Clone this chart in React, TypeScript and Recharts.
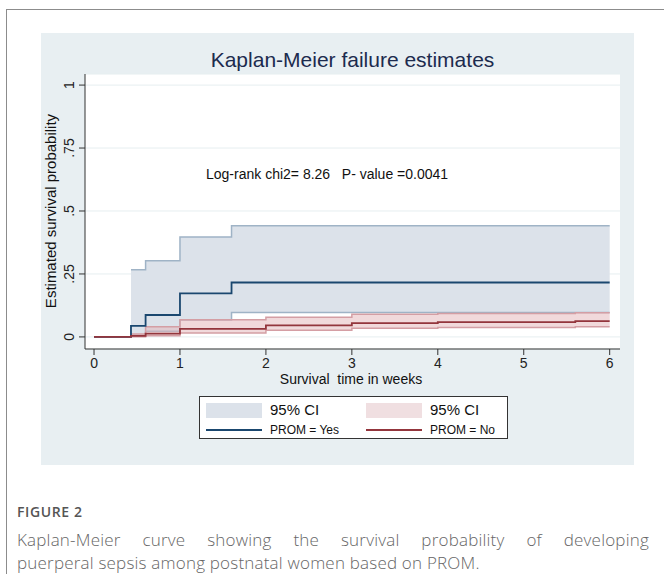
import {
  ComposedChart,
  Area,
  Line,
  XAxis,
  YAxis,
  CartesianGrid,
} from "recharts";

// PROM = Yes (failure estimate with 95% CI)
const yesTime = [0, 0.43, 0.6, 1.0, 1.6, 6];
const yesEst = [0, 0.044, 0.087, 0.173, 0.216, 0.216];
const yesLo = [null, 0.006, 0.022, 0.067, 0.097, 0.097];
const yesHi = [null, 0.267, 0.302, 0.397, 0.441, 0.441];

// PROM = No
const noTime = [0, 0.43, 0.6, 1.0, 2.0, 3.0, 4.0, 5.6, 6];
const noEst = [0, 0.004, 0.013, 0.032, 0.046, 0.055, 0.059, 0.063, 0.063];
const noLo = [null, 0.001, 0.005, 0.016, 0.026, 0.034, 0.037, 0.04, 0.04];
const noHi = [null, 0.012, 0.04, 0.068, 0.078, 0.09, 0.093, 0.096, 0.096];

const xTicks = [0, 1, 2, 3, 4, 5, 6];
const yTicks = [0, 0.25, 0.5, 0.75, 1];
const yTickLabels = ["0", ".25", ".5", ".75", "1"];

const yesLine = yesTime.map((t, i) => ({ t, est: yesEst[i] }));
const yesBand = yesTime
  .map((t, i) => ({ t, ci: yesLo[i] == null ? null : [yesLo[i], yesHi[i]] }))
  .filter((d) => d.ci != null);
const noLine = noTime.map((t, i) => ({ t, est: noEst[i] }));
const noBand = noTime
  .map((t, i) => ({ t, ci: noLo[i] == null ? null : [noLo[i], noHi[i]] }))
  .filter((d) => d.ci != null);

const FONT = "'Liberation Sans', Arial, sans-serif";
const NAVY = "#1a476f";
const MAROON = "#93353c";

function YTick(props: any) {
  const { x, y, payload } = props;
  const idx = yTicks.indexOf(payload.value);
  const tx = x - 3;
  return (
    <text
      x={tx}
      y={y}
      transform={`rotate(-90 ${tx} ${y})`}
      textAnchor="middle"
      fontSize={14}
      fontFamily={FONT}
      fill="#222"
    >
      {idx >= 0 ? yTickLabels[idx] : payload.value}
    </text>
  );
}

const abs = (s: any) => ({ position: "absolute" as const, ...s });

export default function App() {
  return (
    <div style={abs({ left: 0, top: 0, width: 664, height: 574, background: "#fff", overflow: "hidden" })}>
      <div
        style={abs({
          left: 6,
          top: 9,
          width: 670,
          height: 580,
          borderLeft: "1px solid #8c8c8c",
          borderTop: "1px solid #8c8c8c",
        })}
      />
      <div style={abs({ left: 41, top: 33, width: 593, height: 432, background: "#e8eff2" })}>
        <ComposedChart
          width={593}
          height={432}
          margin={{ top: 41, right: 14, left: 0, bottom: 76 }}
        >
          <CartesianGrid fill="#ffffff" stroke="#e6eef0" vertical={false} />
          <XAxis
            type="number"
            dataKey="t"
            domain={[-0.105, 6.12]}
            ticks={xTicks}
            allowDataOverflow
            height={40}
            tickSize={6}
            tickMargin={3}
            stroke="#333"
            tick={{ fontSize: 14, fontFamily: FONT, fill: "#222" }}
          />
          <YAxis
            type="number"
            domain={[-0.048, 1.044]}
            ticks={yTicks}
            allowDataOverflow
            width={44}
            tickSize={6}
            stroke="#333"
            tick={<YTick />}
          />
          <Area
            data={yesBand}
            dataKey="ci"
            type="stepAfter"
            fill="#dce2ea"
            fillOpacity={1}
            stroke="#9fb3c6"
            strokeWidth={1.5}
            isAnimationActive={false}
          />
          <Area
            data={noBand}
            dataKey="ci"
            type="stepAfter"
            fill="#e3b3b8"
            fillOpacity={0.5}
            stroke="#d49ea4"
            strokeWidth={1.5}
            isAnimationActive={false}
          />
          <Line
            data={yesLine}
            dataKey="est"
            type="stepAfter"
            stroke={NAVY}
            strokeWidth={1.8}
            dot={false}
            isAnimationActive={false}
          />
          <Line
            data={noLine}
            dataKey="est"
            type="stepAfter"
            stroke={MAROON}
            strokeWidth={1.8}
            dot={false}
            isAnimationActive={false}
          />
        </ComposedChart>
      </div>

      <div
        style={abs({
          left: 85,
          width: 535,
          top: 47,
          textAlign: "center",
          fontFamily: FONT,
          fontSize: 21,
          color: "#1c2b4e",
          lineHeight: "26px",
        })}
      >
        Kaplan-Meier failure estimates
      </div>

      <div
        style={abs({
          left: 206,
          top: 165,
          fontFamily: FONT,
          fontSize: 14,
          color: "#111",
          whiteSpace: "pre",
          lineHeight: "18px",
        })}
      >
        {"Log-rank chi2= 8.26   P- value =0.0041"}
      </div>

      <div
        style={abs({
          left: 41,
          width: 620,
          top: 370,
          textAlign: "center",
          fontFamily: FONT,
          fontSize: 14,
          color: "#111",
          whiteSpace: "pre",
          lineHeight: "18px",
        })}
      >
        {"Survival  time in weeks"}
      </div>

      <div
        style={abs({
          left: 51 - 150,
          top: 211 - 9,
          width: 300,
          textAlign: "center",
          fontFamily: FONT,
          fontSize: 15,
          color: "#111",
          lineHeight: "18px",
          transform: "rotate(-90deg)",
        })}
      >
        Estimated survival probability
      </div>

      {/* legend */}
      <div
        style={abs({
          left: 199,
          top: 396,
          width: 309,
          height: 43,
          background: "#fff",
          border: "1px solid #333",
          boxSizing: "border-box",
          fontFamily: FONT,
          color: "#111",
        })}
      >
        <div style={abs({ left: 6, top: 6, width: 56, height: 15, background: "#dce2ea" })} />
        <div style={abs({ left: 70, top: 4, fontSize: 15, lineHeight: "18px" })}>95% CI</div>
        <div style={abs({ left: 166, top: 6, width: 56, height: 15, background: "#f0dfe1" })} />
        <div style={abs({ left: 230, top: 4, fontSize: 15, lineHeight: "18px" })}>95% CI</div>
        <div style={abs({ left: 6, top: 32, width: 56, height: 2, background: NAVY })} />
        <div style={abs({ left: 70, top: 25, fontSize: 12, lineHeight: "16px" })}>PROM = Yes</div>
        <div style={abs({ left: 166, top: 32, width: 56, height: 2, background: MAROON })} />
        <div style={abs({ left: 230, top: 25, fontSize: 12, lineHeight: "16px" })}>PROM = No</div>
      </div>

      {/* caption */}
      <div
        style={abs({
          left: 17,
          top: 503,
          fontFamily: "'Open Sans', sans-serif",
          fontSize: 14,
          fontWeight: 600,
          color: "#555",
          letterSpacing: 0.6,
          lineHeight: "18px",
        })}
      >
        FIGURE 2
      </div>
      <div
        style={abs({
          left: 17,
          top: 528,
          width: 632,
          fontFamily: "'Open Sans', sans-serif",
          fontSize: 17,
          fontWeight: 300,
          color: "#666",
          letterSpacing: 0.2,
          lineHeight: "23px",
          textAlign: "justify",
          textAlignLast: "justify",
        })}
      >
        Kaplan-Meier curve showing the survival probability of developing
      </div>
      <div
        style={abs({
          left: 17,
          top: 551,
          width: 632,
          fontFamily: "'Open Sans', sans-serif",
          fontSize: 17,
          fontWeight: 300,
          color: "#666",
          letterSpacing: 0.2,
          lineHeight: "23px",
        })}
      >
        puerperal sepsis among postnatal women based on PROM.
      </div>
    </div>
  );
}
